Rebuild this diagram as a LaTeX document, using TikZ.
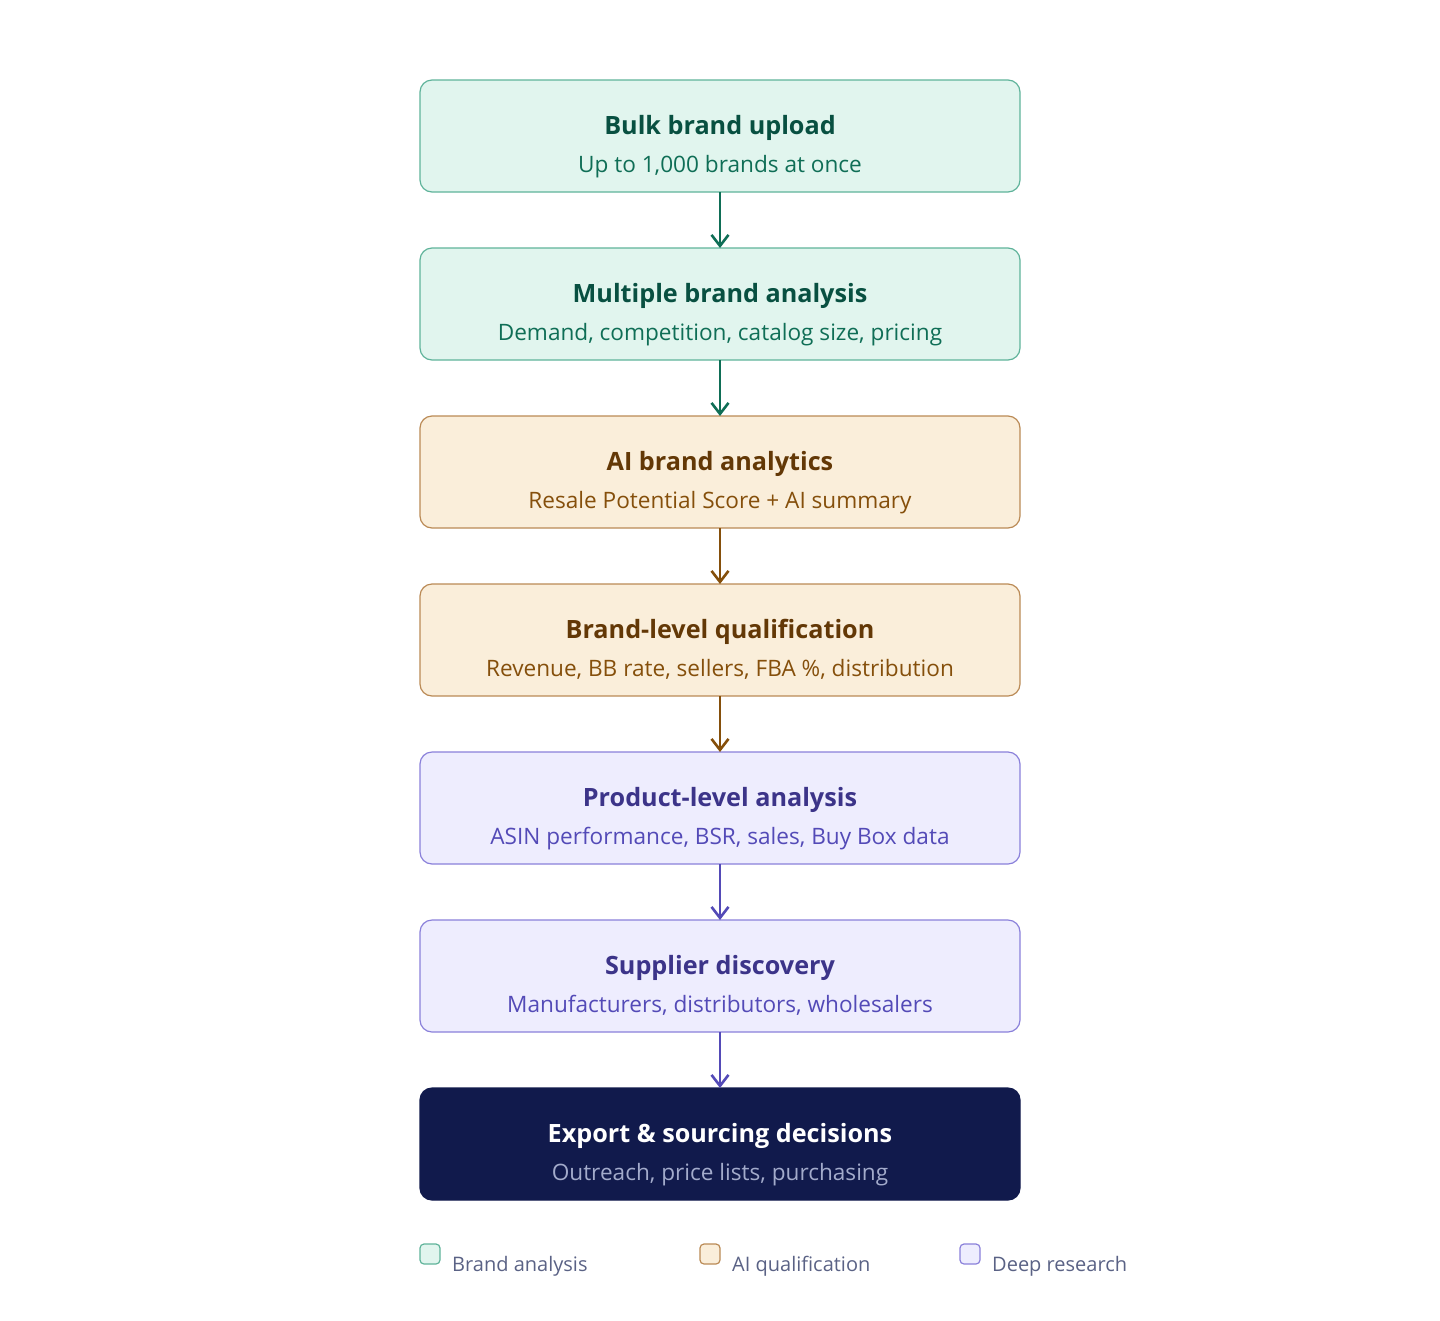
\documentclass[tikz,border=0pt]{standalone}
\usepackage{fontspec}
\setmainfont{Open Sans}
\usetikzlibrary{arrows.meta, positioning}

\definecolor{gfill}{HTML}{E1F5EE}
\definecolor{gdraw}{HTML}{5FB39A}
\definecolor{gtitle}{HTML}{085041}
\definecolor{gsub}{HTML}{0F6E56}
\definecolor{ofill}{HTML}{FAEEDA}
\definecolor{odraw}{HTML}{BA8A55}
\definecolor{otitle}{HTML}{633806}
\definecolor{osub}{HTML}{854F0B}
\definecolor{pfill}{HTML}{EEEDFE}
\definecolor{pdraw}{HTML}{8A80DA}
\definecolor{ptitle}{HTML}{3C3489}
\definecolor{psub}{HTML}{534AB7}
\definecolor{dfill}{HTML}{111A4C}
\definecolor{dsub}{HTML}{A3ABCB}
\definecolor{keytxt}{HTML}{5A6285}

\begin{document}
\begin{tikzpicture}[x=1pt, y=1pt, node distance=56pt, >={Straight Barb[length=11pt,width=17pt]},
		stage/.style={rectangle, rounded corners=12pt, line width=1.2pt, minimum width=600pt, minimum height=112pt, inner sep=0pt, outer sep=0pt},
		ttl/.style={anchor=base, inner sep=0pt, font=\fontsize{25.2}{30}\selectfont\bfseries},
		sub/.style={anchor=base, inner sep=0pt, font=\fontsize{22.6}{26}\selectfont},
		flow/.style={->, line width=2.6pt},
		key/.style={rectangle, rounded corners=4pt, line width=1.2pt, minimum size=20pt, inner sep=0pt},
		keytext/.style={anchor=base west, inner sep=0pt, text=keytxt, font=\fontsize{20}{24}\selectfont}]
		
		\useasboundingbox (0,0) rectangle (1440,-1320);
		
		% stages
		\node[stage, fill=gfill, draw=gdraw] (upload) at (720,-136) {};
		\node[stage, fill=gfill, draw=gdraw, below=of upload] (multi) {};
		\node[stage, fill=ofill, draw=odraw, below=of multi] (ai) {};
		\node[stage, fill=ofill, draw=odraw, below=of ai] (qual) {};
		\node[stage, fill=pfill, draw=pdraw, below=of qual] (product) {};
		\node[stage, fill=pfill, draw=pdraw, below=of product] (supplier) {};
		\node[stage, fill=dfill, draw=dfill, below=of supplier] (export) {};
		
		% texts
		\node[ttl, text=gtitle] (upload-t) at ([yshift=2pt]upload.center) {Bulk brand upload};
		\node[sub, text=gsub] (upload-s) at ([yshift=-36pt]upload.center) {Up to 1,000 brands at once};
		\node[ttl, text=gtitle] (multi-t) at ([yshift=2pt]multi.center) {Multiple brand analysis};
		\node[sub, text=gsub] (multi-s) at ([yshift=-36pt]multi.center) {Demand, competition, catalog size, pricing};
		\node[ttl, text=otitle] (ai-t) at ([yshift=2pt]ai.center) {AI brand analytics};
		\node[sub, text=osub] (ai-s) at ([yshift=-36pt]ai.center) {Resale Potential Score + AI summary};
		\node[ttl, text=otitle] (qual-t) at ([yshift=2pt]qual.center) {Brand-level qualification};
		\node[sub, text=osub] (qual-s) at ([yshift=-36pt]qual.center) {Revenue, BB rate, sellers, FBA \%, distribution};
		\node[ttl, text=ptitle] (product-t) at ([yshift=2pt]product.center) {Product-level analysis};
		\node[sub, text=psub] (product-s) at ([yshift=-36pt]product.center) {ASIN performance, BSR, sales, Buy Box data};
		\node[ttl, text=ptitle] (supplier-t) at ([yshift=2pt]supplier.center) {Supplier discovery};
		\node[sub, text=psub] (supplier-s) at ([yshift=-36pt]supplier.center) {Manufacturers, distributors, wholesalers};
		\node[ttl, text=white] (export-t) at ([yshift=2pt]export.center) {Export \& sourcing decisions};
		\node[sub, text=dsub] (export-s) at ([yshift=-36pt]export.center) {Outreach, price lists, purchasing};
		
		% arrows
		\draw[flow, gsub] (upload) -- (multi);
		\draw[flow, gsub] (multi) -- (ai);
		\draw[flow, osub] (ai) -- (qual);
		\draw[flow, osub] (qual) -- (product);
		\draw[flow, psub] (product) -- (supplier);
		\draw[flow, psub] (supplier) -- (export);
		
		% legend
		\node[key, fill=gfill, draw=gdraw] (kbrand) at (430,-1254) {};
		\node[keytext] (kbrand-t) at (452,-1271) {Brand analysis};
		\node[key, fill=ofill, draw=odraw] (kai) at (710,-1254) {};
		\node[keytext] (kai-t) at (732,-1271) {AI qualification};
		\node[key, fill=pfill, draw=pdraw] (kdeep) at (970,-1254) {};
		\node[keytext] (kdeep-t) at (992,-1271) {Deep research};
	\end{tikzpicture}
\end{document}
